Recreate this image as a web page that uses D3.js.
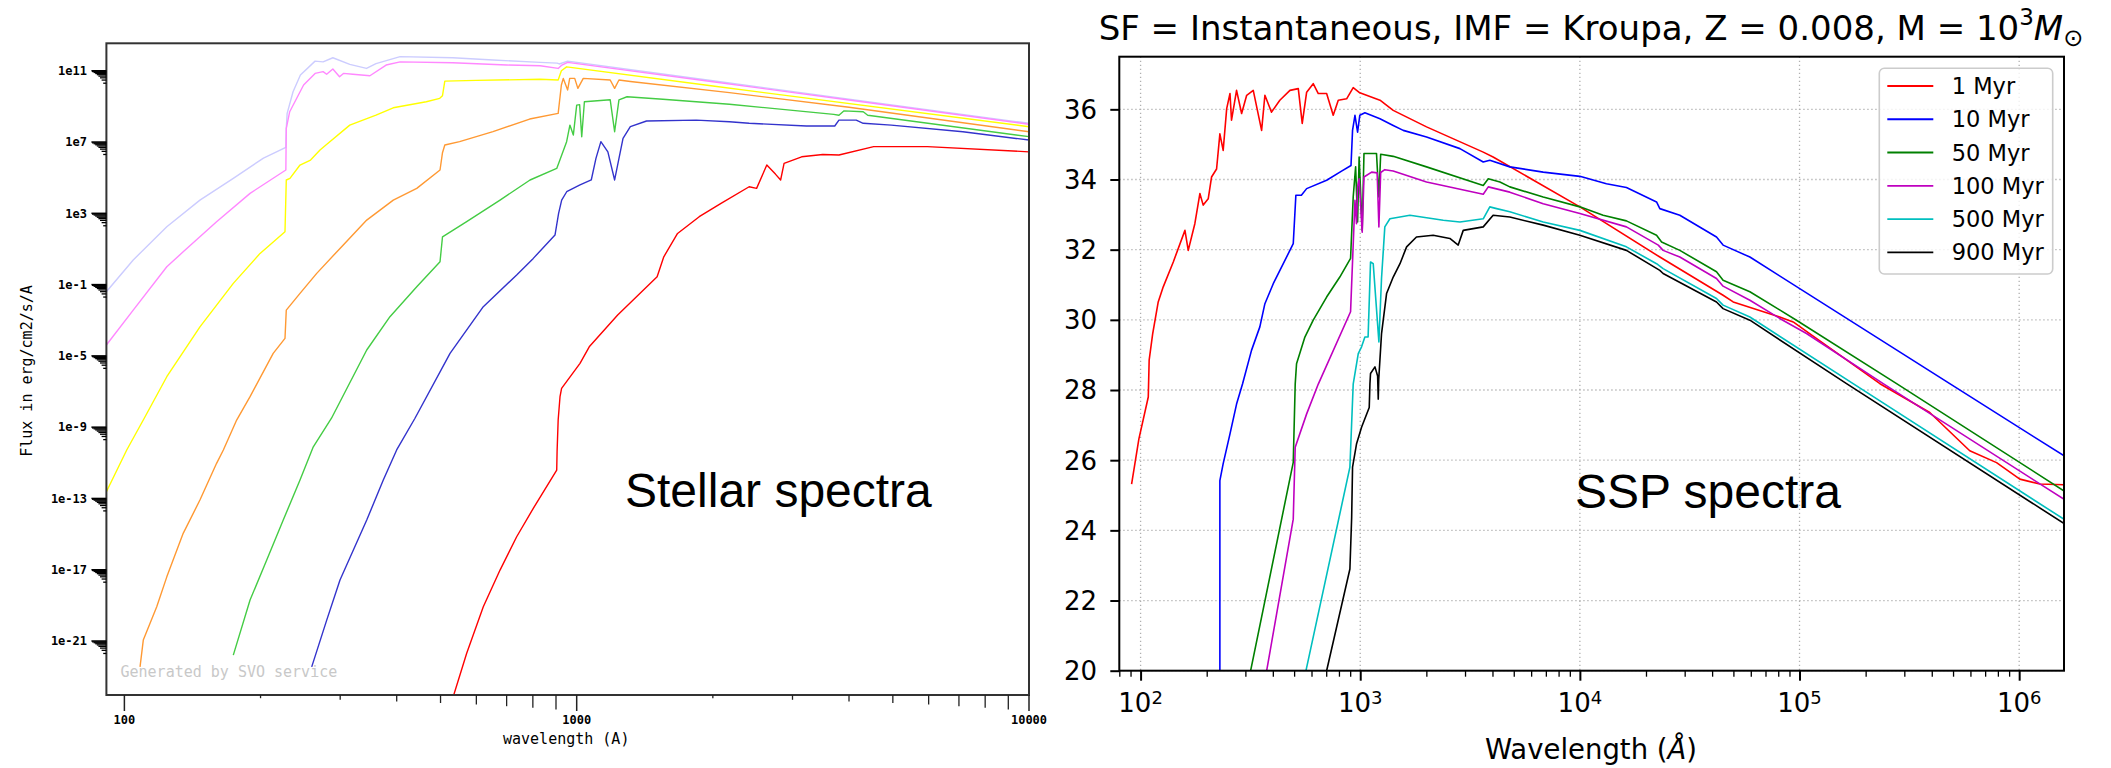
<!DOCTYPE html>
<html><head><meta charset="utf-8">
<script src="https://cdn.jsdelivr.net/npm/d3@7"></script>
<style>body{margin:0;background:#fff}svg{display:block}</style>
</head><body><svg id="c" width="2111" height="768"></svg>
<script>
// ---------- LEFT PANEL DATA: [wavelength (A), log10 flux] ----------
const stellarLavender = [[91.25,-1.4],[104.6,0.38],[124.1,2.25],[146.9,3.74],[174.1,4.96],[203,6.1],[227.5,6.7],[228,7.77],[229,8.61],[236,9.82],[245,10.76],[264,11.54],[275,11.5],[289,11.73],[315,11.36],[343,11.13],[360,11.4],[407,11.79],[532,11.73],[653,11.6],[830,11.47],[905,11.43],[915,11.38],[955,11.54],[2000,10.44],[4000,9.41],[10000,8.05]];
const stellarPink = [[91.25,-4.39],[104.6,-2.43],[124.1,0.0],[134.9,0.84],[159.9,2.53],[189.6,4.12],[227.5,5.43],[228,7.77],[232,8.7],[249,10.2],[264,10.85],[275,10.95],[280,10.8],[289,11.1],[299,10.66],[305,10.85],[320,10.8],[349,10.72],[379,11.32],[407,11.5],[532,11.45],[700,11.32],[830,11.28],[910,11.13],[925,11.3],[955,11.47],[2000,10.38],[4000,9.36],[10000,8.0]];
const stellarYellow = [[91.25,-12.62],[101.2,-10.28],[110.1,-8.6],[124.1,-6.17],[146.9,-3.37],[174.1,-0.93],[199.5,0.75],[226.5,1.97],[228,4.87],[232.3,4.96],[244.5,5.71],[258,5.99],[270.7,6.55],[279,6.83],[315,7.95],[360,8.51],[393,8.92],[465,9.26],[498,9.45],[505,9.6],[511,10.42],[600,10.46],[830,10.52],[910,10.48],[925,11.0],[950,11.22],[2000,10.14],[10000,7.86]];
const stellarOrange = [[108.3,-22.45],[110.1,-20.95],[117.9,-19.08],[124.1,-17.4],[134.9,-14.96],[146.9,-13.09],[159.9,-11.03],[165.5,-10.28],[177.1,-8.6],[189.6,-7.29],[213.3,-4.86],[226.5,-4.02],[228,-2.43],[244.5,-1.49],[266.2,-0.37],[299.7,1.03],[343.4,2.62],[393.1,3.74],[443,4.4],[498.7,5.43],[505,6.4],[511,6.83],[551,7.02],[653,7.58],[787,8.29],[910,8.61],[925,10.2],[934,10.57],[955,9.92],[965,10.57],[990,10.57],[1006,10.01],[1034,10.57],[1186,10.48],[1213,10.01],[1240,10.48],[1314,10.4],[2176,9.77],[4000,8.95],[10000,7.58]];
const stellarGreen = [[174.1,-21.79],[189.6,-18.7],[206.4,-16.46],[224.5,-14.21],[244.5,-11.97],[261.6,-10.1],[287,-8.5],[343.4,-4.67],[386.5,-2.8],[443,-1.12],[498.7,0.28],[505,1.68],[571.2,2.53],[676.9,3.74],[788.6,4.87],[903.3,5.52],[912,5.8],[950,7.02],[966,7.95],[983,7.39],[1000,9.07],[1015,9.1],[1026,7.3],[1040,9.26],[1186,9.37],[1213,7.58],[1240,9.37],[1292,9.54],[1551,9.4],[2176,9.12],[3700,8.55],[3800,8.5],[3900,8.75],[4300,8.7],[4400,8.5],[10000,7.3]];
const stellarBlue = [[259.5,-22.45],[280.1,-19.83],[299.7,-17.58],[343.4,-14.21],[373.6,-11.97],[399.9,-10.28],[439,-8.5],[524.8,-4.86],[621.6,-2.24],[736.7,-0.46],[801.7,0.47],[895.4,1.78],[912,3.0],[926.4,3.74],[950.4,4.21],[1017,4.59],[1077,4.87],[1103,6.08],[1131,7.02],[1172,6.45],[1213,4.87],[1266,7.2],[1314,7.86],[1427,8.18],[1838,8.23],[2176,8.14],[2406,8.05],[3220,7.9],[3720,7.9],[3800,8.23],[4150,8.23],[4300,8.05],[4960,7.95],[7143,7.58],[10000,7.11]];
const stellarRed = [[533.7,-24.1],[571.2,-21.69],[621.6,-19.08],[676.9,-17.02],[736.7,-15.15],[801.7,-13.56],[903.3,-11.41],[905,-10.38],[910,-8.6],[918.6,-7.29],[926,-6.82],[1017,-5.42],[1066,-4.49],[1232,-2.71],[1506,-0.56],[1558,0.56],[1671,1.87],[1866,2.81],[2085,3.56],[2406,4.49],[2499,4.4],[2632,5.71],[2750,5.2],[2824,4.87],[2874,5.8],[3143,6.17],[3500,6.3],[3800,6.27],[4535,6.74],[5960,6.74],[10000,6.45]];
const stellarSeries = [stellarLavender, stellarPink, stellarYellow, stellarOrange, stellarGreen, stellarBlue, stellarRed];
const stellarColors = ["#ccccff","#ff88ff","#ffff00","#ff9933","#44cc44","#3333cc","#ff0000"];
const leftXTicks = [100, 1000, 10000];
const leftXTickLabels = ["100","1000","10000"];
const leftYTickExps = [11,7,3,-1,-5,-9,-13,-17,-21];
const leftYTickLabels = ["1e11","1e7","1e3","1e-1","1e-5","1e-9","1e-13","1e-17","1e-21"];

// ---------- RIGHT PANEL DATA: [wavelength (A), log L] ----------
const ssp1 = [[91.0,25.32],[98.2,26.6],[108.4,27.8],[109.4,28.85],[113.5,29.6],[120.2,30.5],[126.8,30.94],[140.9,31.65],[159.2,32.55],[164.8,31.98],[176.6,32.74],[186.2,33.6],[192.8,33.27],[203.2,33.45],[210.4,34.07],[221.8,34.3],[229.6,35.3],[237.7,34.83],[246.6,36.02],[255.3,36.45],[259.4,35.69],[273.5,36.54],[288.4,35.88],[304.1,36.4],[325.8,36.54],[355.6,35.4],[368.1,36.4],[394.5,35.92],[430.5,36.26],[478.6,36.54],[522.4,36.59],[544.5,35.6],[570.2,36.49],[610.9,36.73],[644.2,36.45],[703.1,36.45],[753.4,35.83],[794.3,36.26],[867,36.3],[929,36.62],[995.4,36.47],[1230,36.26],[1413,35.97],[2004,35.5],[3631,34.78],[4027,34.64],[10000,33.22],[23120,31.79],[44870,30.7],[49890,30.51],[81280,30.08],[93540,29.94],[232300,28.18],[391700,27.36],[595700,26.27],[788900,25.93],[1007000,25.46],[1242000,25.32],[1596000,25.3]];
const ssp10 = [[229.6,15],[229.6,25.42],[237.7,25.9],[255.3,26.75],[273.5,27.6],[291.1,28.17],[319.9,29.13],[349.1,29.8],[368.1,30.46],[401.8,31.03],[495.5,32.17],[509.3,33.55],[539.5,33.55],[570.2,33.74],[703.1,33.98],[822.2,34.24],[907.8,34.4],[922.6,35.4],[946.2,35.83],[972.7,35.35],[995.4,35.83],[1050,35.9],[1230,35.73],[1413,35.54],[1570,35.4],[2004,35.21],[2844,34.88],[3631,34.5],[3890,34.55],[4797,34.36],[6808,34.21],[10000,34.09],[13210,33.88],[16290,33.77],[22340,33.36],[23120,33.17],[28510,32.98],[41880,32.36],[44870,32.13],[59430,31.79],[483100,28.18],[1596000,26.13]];
const ssp50 = [[300,19.2],[317,20],[495.5,25.94],[505.8,28.17],[512.9,28.75],[559.8,29.51],[610.9,29.99],[703.1,30.65],[807.2,31.22],[903.6,31.75],[929,33.5],[952.8,34.36],[972.7,32.79],[988.5,34.64],[1021,32.55],[1040,34.74],[1186,34.74],[1216,33.5],[1239,34.72],[1413,34.66],[2004,34.36],[3631,33.83],[3828,34.02],[4325,33.93],[4797,33.79],[6808,33.5],[10000,33.22],[12760,32.98],[16290,32.82],[22340,32.41],[23550,32.22],[28510,31.98],[41880,31.37],[44870,31.13],[59430,30.8],[96830,29.99],[276700,28.18],[1596000,25.13]];
const ssp100 = [[355,19.2],[375,20],[495.5,24.32],[505.8,26.37],[570.2,27.32],[644.2,28.17],[903.6,30.23],[946.2,33.41],[961.6,32.74],[972.7,33.79],[988.5,34.02],[1021,32.5],[1040,34.07],[1127,34.21],[1194,34.19],[1216,32.65],[1239,34.2],[1294,34.28],[1413,34.24],[2004,33.93],[3631,33.58],[3828,33.79],[4797,33.64],[6808,33.31],[10000,33.03],[16290,32.65],[22750,32.13],[23930,31.98],[28510,31.79],[41880,31.18],[44870,30.96],[59430,30.56],[81280,30.04],[107600,29.61],[240400,28.18],[1596000,24.89]];
const ssp500 = [[540,19.2],[566.2,20],[897.4,25.8],[929,28.17],[979.5,29.04],[1014,29.23],[1050,29.51],[1086,29.51],[1114,31.65],[1146,31.6],[1216,29.37],[1250,31.18],[1294,32.65],[1365,32.88],[1683,32.98],[2388,32.84],[2844,32.79],[3631,32.88],[3890,33.22],[4178,33.17],[4797,33.08],[6808,32.79],[10000,32.55],[16290,32.08],[22340,31.6],[23930,31.46],[41880,30.61],[44870,30.42],[59430,30.08],[175400,28.18],[1596000,24.32]];
const ssp900 = [[690,19.2],[703.1,20],[897.4,22.9],[914.1,24.37],[922.6,25.8],[961.6,26.46],[1014,26.94],[1099,27.5],[1107,28.17],[1114,28.47],[1167,28.66],[1200,28.4],[1208,27.74],[1214,28.3],[1250,29.6],[1318,30.75],[1413,31.22],[1517,31.6],[1626,32.08],[1803,32.36],[2148,32.41],[2559,32.32],[2793,32.13],[2944,32.55],[3631,32.65],[4027,32.98],[4797,32.93],[6808,32.7],[10000,32.41],[16290,31.98],[23120,31.41],[23930,31.32],[41880,30.51],[44870,30.32],[59430,29.99],[163700,28.18],[1596000,24.2]];
const sspSeries = [ssp1, ssp10, ssp50, ssp100, ssp500, ssp900];
const sspLabels = ["1 Myr","10 Myr","50 Myr","100 Myr","500 Myr","900 Myr"];
const sspColors = ["#ff0000","#0000ff","#008000","#bf00bf","#00bfbf","#000000"];
const rightXTickExps = [2,3,4,5,6];
const rightYTicks = [20,22,24,26,28,30,32,34,36];

// ---------- DRAW ----------
const svg = d3.select("#c");
svg.append("rect").attr("width",2111).attr("height",768).attr("fill","#fff");
const defs = svg.append("defs");

// LEFT PANEL
const L = {x0:106.4, x1:1029, y0:43.3, y1:695};
const lx = d3.scaleLog().domain([91.25,10000]).range([L.x0,L.x1]);
const ly = d3.scaleLog().domain([Math.pow(10,-24.03),Math.pow(10,12.54)]).range([L.y1,L.y0]);
defs.append("clipPath").attr("id","clipL").append("rect")
  .attr("x",L.x0).attr("y",L.y0).attr("width",L.x1-L.x0).attr("height",L.y1-L.y0);
const lline = d3.line().x(d=>lx(d[0])).y(d=>ly(Math.pow(10,d[1])));
const gL = svg.append("g").attr("clip-path","url(#clipL)");
stellarSeries.forEach((s,i)=>{
  gL.append("path").attr("d",lline(s)).attr("fill","none")
    .attr("stroke",stellarColors[i]).attr("stroke-width",1.4).attr("stroke-linejoin","round");
});
svg.append("rect").attr("x",L.x0).attr("y",L.y0).attr("width",L.x1-L.x0).attr("height",L.y1-L.y0)
  .attr("fill","none").attr("stroke","#333").attr("stroke-width",2);
const mono = "'DejaVu Sans Mono', monospace";
leftXTicks.forEach((v,i)=>{
  svg.append("line").attr("x1",lx(v)).attr("x2",lx(v)).attr("y1",L.y1).attr("y2",L.y1+16)
    .attr("stroke","#222").attr("stroke-width",1.5);
  svg.append("text").attr("x",lx(v)).attr("y",724).attr("text-anchor","middle")
    .style("font-family",mono).style("font-size","12px").style("font-weight","bold").text(leftXTickLabels[i]);
  if(i>0){
    for(let m=2;m<=9;m++){
      const xv = m*leftXTicks[i-1];
      svg.append("line").attr("x1",lx(xv)).attr("x2",lx(xv)).attr("y1",L.y1).attr("y2",L.y1+1.6*m)
        .attr("stroke","#222").attr("stroke-width",1.3);
    }
  }
});
leftYTickExps.forEach((e,i)=>{
  const yv = Math.pow(10,e);
  svg.append("line").attr("x1",L.x0-15).attr("x2",L.x0).attr("y1",ly(yv)).attr("y2",ly(yv))
    .attr("stroke","#000").attr("stroke-width",1.5);
  for(let m=2;m<=9;m++){
    const v = m*Math.pow(10,e-1);
    svg.append("line").attr("x1",L.x0-1.6*m).attr("x2",L.x0).attr("y1",ly(v)).attr("y2",ly(v))
      .attr("stroke","#000").attr("stroke-width",1.3);
  }
  svg.append("text").attr("x",87).attr("y",ly(yv)).attr("dy","0.35em").attr("text-anchor","end")
    .style("font-family",mono).style("font-size","12px").style("font-weight","bold").text(leftYTickLabels[i]);
});
svg.append("text").attr("x",503).attr("y",744).style("font-family",mono).style("font-size","15px").text("wavelength (A)");
svg.append("text").attr("transform","translate(32,371) rotate(-90)").attr("text-anchor","middle")
  .style("font-family",mono).style("font-size","15px").text("Flux in erg/cm2/s/A");
svg.append("text").attr("x",120.5).attr("y",677).style("font-family",mono).style("font-size","15px")
  .attr("fill","#c8c8c8").text("Generated by SVO service");
svg.append("text").attr("x",625).attr("y",507).style("font-family","'Liberation Sans', Arial, sans-serif")
  .style("font-size","48px").text("Stellar spectra");

// RIGHT PANEL
const R = {x0:1119.3, x1:2064, y0:56.7, y1:670.7};
const rx = d3.scaleLog().domain([80,1.6e6]).range([R.x0,R.x1]);
const ry = d3.scaleLinear().domain([20,37.5]).range([R.y1,R.y0]);
defs.append("clipPath").attr("id","clipR").append("rect")
  .attr("x",R.x0).attr("y",R.y0).attr("width",R.x1-R.x0).attr("height",R.y1-R.y0);
const grid = svg.append("g").attr("stroke","#b0b0b0").attr("stroke-width",1.3).attr("stroke-dasharray","1.3,2.7");
rightXTickExps.forEach(e=>{
  const x = rx(Math.pow(10,e));
  grid.append("line").attr("x1",x).attr("x2",x).attr("y1",R.y0).attr("y2",R.y1);
});
rightYTicks.forEach(v=>{
  grid.append("line").attr("x1",R.x0).attr("x2",R.x1).attr("y1",ry(v)).attr("y2",ry(v));
});
const rline = d3.line().x(d=>rx(d[0])).y(d=>ry(d[1]));
const gR = svg.append("g").attr("clip-path","url(#clipR)");
sspSeries.forEach((s,i)=>{
  gR.append("path").attr("d",rline(s)).attr("fill","none")
    .attr("stroke",sspColors[i]).attr("stroke-width",1.6).attr("stroke-linejoin","round");
});
svg.append("rect").attr("x",R.x0).attr("y",R.y0).attr("width",R.x1-R.x0).attr("height",R.y1-R.y0)
  .attr("fill","none").attr("stroke","#000").attr("stroke-width",2);
const minorVals = [];
for(let e=1;e<=6;e++){ for(let m=2;m<=9;m++){ const v=m*Math.pow(10,e); if(v>=80 && v<=1.6e6) minorVals.push(v);} }
const axMinor = d3.axisBottom(rx).tickValues(minorVals).tickSize(6).tickFormat("");
const gm = svg.append("g").attr("transform",`translate(0,${R.y1})`).call(axMinor);
gm.select(".domain").remove();
gm.selectAll("line").attr("stroke","#000").attr("stroke-width",1.3);
const axMajor = d3.axisBottom(rx).tickValues(rightXTickExps.map(e=>Math.pow(10,e))).tickSize(10).tickFormat("");
const gM = svg.append("g").attr("transform",`translate(0,${R.y1})`).call(axMajor);
gM.select(".domain").remove();
gM.selectAll("line").attr("stroke","#000").attr("stroke-width",2);
const axY = d3.axisLeft(ry).tickValues(rightYTicks).tickSize(9).tickFormat("");
const gY = svg.append("g").attr("transform",`translate(${R.x0},0)`).call(axY);
gY.select(".domain").remove();
gY.selectAll("line").attr("stroke","#000").attr("stroke-width",2);
const dj = "'DejaVu Sans', sans-serif";
rightXTickExps.forEach(e=>{
  const t = svg.append("text").attr("x",rx(Math.pow(10,e))).attr("y",712).attr("text-anchor","middle")
    .style("font-family",dj).style("font-size","26px");
  t.append("tspan").text("10");
  t.append("tspan").attr("dy",-8).style("font-size","18px").text(String(e));
});
rightYTicks.forEach(v=>{
  svg.append("text").attr("x",1097).attr("y",ry(v)).attr("dy","0.36em").attr("text-anchor","end")
    .style("font-family",dj).style("font-size","26px").text(v);
});
const xl = svg.append("text").attr("x",1591).attr("y",759).attr("text-anchor","middle")
  .style("font-family",dj).style("font-size","27.5px");
xl.append("tspan").text("Wavelength (");
xl.append("tspan").style("font-style","italic").text("Å");
xl.append("tspan").text(")");
const tt = svg.append("text").attr("x",1591).attr("y",40).attr("text-anchor","middle")
  .style("font-family",dj).style("font-size","34px");
tt.append("tspan").text("SF = Instantaneous, IMF = Kroupa, Z = 0.008, M = 10");
tt.append("tspan").attr("dy",-15).style("font-size","23px").text("3");
tt.append("tspan").attr("dy",15).style("font-style","italic").text("M");
tt.append("tspan").attr("dy",6).style("font-size","24px").text("⊙");
svg.append("text").attr("x",1575).attr("y",508).style("font-family","'Liberation Sans', Arial, sans-serif")
  .style("font-size","48px").text("SSP spectra");
svg.append("rect").attr("x",1879.3).attr("y",68.3).attr("width",173.4).attr("height",205.7).attr("rx",5)
  .attr("fill","#fff").attr("fill-opacity",0.8).attr("stroke","#cccccc").attr("stroke-width",1.6);
sspLabels.forEach((lab,i)=>{
  const y = 86 + i*33.26;
  svg.append("line").attr("x1",1887.3).attr("x2",1933.3).attr("y1",y).attr("y2",y)
    .attr("stroke",sspColors[i]).attr("stroke-width",1.8);
  svg.append("text").attr("x",1951.7).attr("y",y).attr("dy","0.36em")
    .style("font-family",dj).style("font-size","22.5px").text(lab);
});
</script></body></html>
